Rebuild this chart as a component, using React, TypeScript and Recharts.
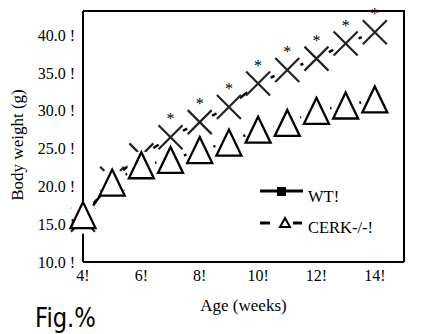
import { LineChart, Line, XAxis, YAxis, LabelList } from 'recharts';

const ages = [4, 5, 6, 7, 8, 9, 10, 11, 12, 13, 14];
const wtWeight = [15.6, 21.0, 24.1, 26.5, 28.5, 30.5, 33.6, 35.4, 36.9, 38.9, 40.4];
const cerkWeight = [16.2, 20.5, 22.8, 23.5, 24.8, 25.8, 27.5, 28.4, 30.0, 30.7, 31.5];
const signif = ['', '', '', '*', '*', '*', '*', '*', '*', '*', '*'];
const xTicks = [4, 6, 8, 10, 12, 14];
const yTicks = [10, 15, 20, 25, 30, 35, 40];

const data = ages.map((age, i) => ({
  age,
  wt: wtWeight[i],
  cerk: cerkWeight[i],
  sig: signif[i],
}));

const serif = '"Liberation Serif", "Times New Roman", serif';
const axisLine = { stroke: '#000', strokeWidth: 2 };

function CrossDot(props: any) {
  const { cx, cy, index } = props;
  if (cx == null || cy == null) return <g key={`wt-${index}`} />;
  const s = 12;
  return (
    <g key={`wt-${index}`}>
      <circle cx={cx} cy={cy} r={14} fill="#fff" />
      <path
        d={`M${cx - s},${cy - s}L${cx + s},${cy + s}M${cx - s},${cy + s}L${cx + s},${cy - s}`}
        stroke="#222"
        strokeWidth={2.2}
        fill="none"
      />
    </g>
  );
}

function TriangleDot(props: any) {
  const { cx, cy, index } = props;
  if (cx == null || cy == null) return <g key={`ck-${index}`} />;
  return (
    <g key={`ck-${index}`}>
      <circle cx={cx} cy={cy} r={14} fill="#fff" />
      <path
        d={`M${cx},${cy - 13}L${cx + 12.5},${cy + 13}L${cx - 12.5},${cy + 13}Z`}
        fill="#fff"
        stroke="#000"
        strokeWidth={2.3}
      />
    </g>
  );
}

function Star(props: any) {
  const { x, y, value, index } = props;
  if (!value) return null;
  return (
    <text key={`s-${index}`} x={x} y={y - 13} textAnchor="middle" fontSize={16} fontFamily={serif} fill="#000">
      {value}
    </text>
  );
}

function YTitle() {
  return (
    <text
      x={17}
      y={145}
      transform="rotate(-90 17 145)"
      textAnchor="middle"
      dominantBaseline="central"
      fontSize={17}
      fontFamily={serif}
      fill="#000"
    >
      Body weight (g)
    </text>
  );
}

export default function App() {
  return (
    <div style={{ position: 'absolute', left: 0, top: 0, width: 427, height: 334, background: '#fff' }}>
      <LineChart width={427} height={334} data={data} margin={{ top: 11, right: 23, left: 0, bottom: 0 }}>
        <XAxis
          dataKey="age"
          type="number"
          domain={[4, 15]}
          ticks={xTicks}
          tickFormatter={(v) => `${v}!`}
          tick={{ fontSize: 16, fontFamily: serif, fill: '#000' }}
          tickLine={false}
          axisLine={axisLine}
          height={72}
          label={{ value: 'Age (weeks)', position: 'insideBottom', offset: 23, fontSize: 17, fontFamily: serif, fill: '#000' }}
        />
        <YAxis
          type="number"
          domain={[10, 43.2]}
          ticks={yTicks}
          tickFormatter={(v) => `${v.toFixed(1)} !`}
          tick={{ fontSize: 16, fontFamily: serif, fill: '#000' }}
          tickLine={false}
          axisLine={axisLine}
          width={83}
          label={<YTitle />}
        />
        <Line
          dataKey="wt"
          stroke="#000"
          strokeWidth={2.5}
          dot={CrossDot}
          activeDot={false}
          isAnimationActive={false}
        >
          <LabelList dataKey="sig" content={Star} />
        </Line>
        <Line
          dataKey="cerk"
          stroke="#000"
          strokeWidth={2.5}
          strokeDasharray="5 3"
          dot={TriangleDot}
          activeDot={false}
          isAnimationActive={false}
        />
      </LineChart>
      <svg width={427} height={334} style={{ position: 'absolute', left: 0, top: 0, pointerEvents: 'none' }}>
        <path d="M83,11H404V262" fill="none" stroke="#000" strokeWidth={2} />
        <line x1={260} x2={303} y1={191} y2={191} stroke="#000" strokeWidth={3} />
        <rect x={277} y={187} width={9} height={9} fill="#000" />
        <text x={308} y={202} fontSize={16.5} fontFamily={serif} fill="#000">WT!</text>
        <line x1={260} x2={270} y1={223} y2={223} stroke="#000" strokeWidth={3} />
        <line x1={293} x2={302} y1={223} y2={223} stroke="#000" strokeWidth={3} />
        <path d="M285,218L290,227L280,227Z" fill="#fff" stroke="#000" strokeWidth={2} />
        <text x={308} y={233} fontSize={16.5} fontFamily={serif} fill="#000">CERK-/-!</text>
        <text
          x={35}
          y={327}
          fontSize={27}
          fontFamily='"DejaVu Sans", sans-serif'
          fill="#000"
          transform="translate(35 0) scale(0.84 1) translate(-35 0)"
        >
          Fig.%
        </text>
      </svg>
    </div>
  );
}
